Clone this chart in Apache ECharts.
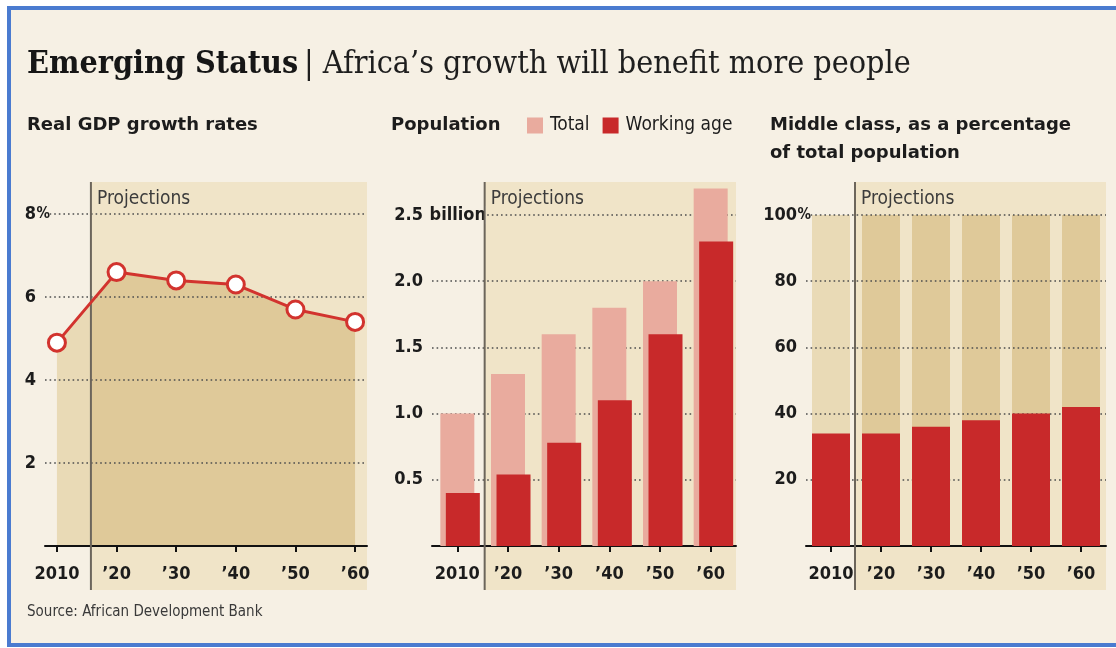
<!DOCTYPE html>
<html>
<head>
<meta charset="utf-8">
<script src="https://cdn.jsdelivr.net/npm/echarts@6/dist/echarts.min.js"></script>
<style>
  html, body { margin: 0; padding: 0; background: #ffffff; }
  #chart { width: 1116px; height: 648px; }
</style>
</head>
<body>
<div id="chart"></div>
<script>
// ---- data -------------------------------------------------------------
const years = [2010, 2020, 2030, 2040, 2050, 2060];
const yearLabels = ['2010', '\u201920', '\u201930', '\u201940', '\u201950', '\u201960'];

// Real GDP growth rate, %
const gdpGrowth = [4.9, 6.6, 6.4, 6.3, 5.7, 5.4];
// Population, billions
const populationTotal = [1.0, 1.3, 1.6, 1.8, 2.0, 2.7];
const populationWorkingAge = [0.4, 0.54, 0.78, 1.1, 1.6, 2.3];
// Middle class, % of total population
const middleClassShare = [34, 34, 36, 38, 40, 42];
const wholePopulation = [100, 100, 100, 100, 100, 100];

// projections start after the 2010 observation
const gdpProjectionFrom = 2015.7;

// ---- style ------------------------------------------------------------
const BG = '#f6f0e4';
const BAND = '#f0e4c8';
const TAN_OUT = '#e9dab6';
const TAN_IN = '#dfc999';
const PINK = '#e9ab9e';
const RED = '#c8292a';
const LINE_RED = '#d2332e';
const INK = '#1c1c1c';
const SANS_C = '"DejaVu Sans Condensed", "DejaVu Sans", sans-serif';
const SANS = '"DejaVu Sans", sans-serif';
const SERIF = '"DejaVu Serif Condensed", "DejaVu Serif", serif';

const grids = [
  { left: 45, top: 214, width: 322, height: 332 },
  { left: 432, top: 215, width: 304, height: 331 },
  { left: 806, top: 215, width: 300, height: 331 }
];

const measure = (() => {
  const ctx = document.createElement('canvas').getContext('2d');
  return (text, font) => { ctx.font = font; return Math.ceil(ctx.measureText(text).width); };
})();

const labelFont = { fontFamily: SANS_C, fontSize: 18, fontWeight: 'bold', color: INK };
const suffixFont = { fontFamily: SANS_C, fontSize: 18, fontWeight: 'bold', color: INK };
const pctFont = { fontFamily: SANS_C, fontSize: 15, fontWeight: 'bold', color: INK };

// y labels: numbers right-aligned, unit on the top label hangs to the right
function yAxisFor(gi, max, interval, unit, unitStyle, fmt) {
  const w = measure(unit, `${unitStyle.fontWeight} ${unitStyle.fontSize}px ${unitStyle.fontFamily}`);
  return {
    type: 'value', gridIndex: gi, min: 0, max: max, interval: interval,
    axisLine: { show: false }, axisTick: { show: false },
    splitLine: { show: true, lineStyle: { color: '#4e4e4e', width: 1.6, type: [1.6, 3] } },
    axisLabel: {
      margin: -(w - 9),
      formatter: v => {
        if (v === 0) return '';
        const n = fmt(v);
        return v === max ? `{n|${n}}{u|${unit}}` : `{n|${n}}{p| }`;
      },
      rich: {
        n: Object.assign({}, labelFont),
        u: Object.assign({ width: w, backgroundColor: BG }, unitStyle),
        p: Object.assign({ width: w }, labelFont)
      }
    },
    z: 0
  };
}

const xLabelStyle = Object.assign({ margin: 19, interval: 0 }, labelFont);
const xAxisLine = { show: true, lineStyle: { color: '#111', width: 2 } };
const xAxisTick = { show: true, length: 6, lineStyle: { color: '#111', width: 2 } };

const gdpPoints = years.map((y, i) => [y, gdpGrowth[i]]);
const split = (gdpProjectionFrom - years[0]) / (years[years.length - 1] - years[0]);

// population bars: total centred on the tick, working age nudged right;
// an empty trailing column balances the group so that holds
const popBarWidth = 34;
const popBarGap = -0.838;
const popSpacerWidth = popBarWidth - 2 * popBarWidth * (1 + popBarGap);

const option = {
  backgroundColor: 'transparent',
  animation: false,
  grid: grids.map(g => Object.assign({ containLabel: false }, g)),
  legend: {
    data: ['Total', 'Working age'],
    left: 527, top: 116, padding: 0,
    itemWidth: 16, itemHeight: 16, itemGap: 13,
    icon: 'rect',
    textStyle: { fontFamily: SANS_C, fontSize: 19, color: INK, padding: [0, 0, 0, 2] },
    selectedMode: false
  },
  xAxis: [
    {
      type: 'value', gridIndex: 0, min: 2008, max: 2062,
      splitLine: { show: false },
      axisLine: xAxisLine,
      axisTick: Object.assign({ customValues: years }, xAxisTick),
      axisLabel: Object.assign({ customValues: years, formatter: v => yearLabels[years.indexOf(v)] }, xLabelStyle)
    },
    {
      type: 'category', gridIndex: 1, data: yearLabels, boundaryGap: true,
      axisLine: xAxisLine,
      axisTick: Object.assign({ alignWithLabel: true, interval: 0 }, xAxisTick),
      axisLabel: xLabelStyle
    },
    {
      type: 'category', gridIndex: 2, data: yearLabels, boundaryGap: true,
      axisLine: xAxisLine,
      axisTick: Object.assign({ alignWithLabel: true, interval: 0 }, xAxisTick),
      axisLabel: xLabelStyle
    }
  ],
  yAxis: [
    yAxisFor(0, 8, 2, '%', pctFont, v => String(v)),
    yAxisFor(1, 2.5, 0.5, ' billion', suffixFont, v => v.toFixed(1)),
    yAxisFor(2, 100, 20, '%', pctFont, v => String(v))
  ],
  series: [
    {
      name: 'GDP area', type: 'line', xAxisIndex: 0, yAxisIndex: 0,
      data: gdpPoints, showSymbol: false, lineStyle: { opacity: 0 },
      areaStyle: {
        opacity: 1,
        color: new echarts.graphic.LinearGradient(0, 0, 1, 0, [
          { offset: 0, color: TAN_OUT }, { offset: split, color: TAN_OUT },
          { offset: split, color: TAN_IN }, { offset: 1, color: TAN_IN }
        ])
      },
      silent: true, z: -1
    },
    {
      name: 'Real GDP growth', type: 'line', xAxisIndex: 0, yAxisIndex: 0,
      data: gdpPoints,
      symbol: 'circle', symbolSize: 17,
      lineStyle: { color: LINE_RED, width: 3 },
      itemStyle: { color: '#ffffff', borderColor: LINE_RED, borderWidth: 3 },
      z: 5
    },
    {
      name: 'Total', type: 'bar', xAxisIndex: 1, yAxisIndex: 1,
      data: populationTotal, barWidth: popBarWidth, barGap: popBarGap * 100 + '%', clip: false,
      itemStyle: { color: PINK }
    },
    {
      name: 'Working age', type: 'bar', xAxisIndex: 1, yAxisIndex: 1,
      data: populationWorkingAge, barWidth: popBarWidth, barGap: popBarGap * 100 + '%', clip: false,
      itemStyle: { color: RED }
    },
    {
      name: 'spacer', type: 'bar', xAxisIndex: 1, yAxisIndex: 1,
      data: [], barWidth: popSpacerWidth, barGap: popBarGap * 100 + '%', silent: true
    },
    {
      name: 'Whole population', type: 'bar', xAxisIndex: 2, yAxisIndex: 2,
      data: wholePopulation, barWidth: 38, barGap: '-100%',
      itemStyle: { color: p => (p.dataIndex === 0 ? TAN_OUT : TAN_IN) },
      silent: true, z: -1
    },
    {
      name: 'Middle class', type: 'bar', xAxisIndex: 2, yAxisIndex: 2,
      data: middleClassShare, barWidth: 38, barGap: '-100%',
      itemStyle: { color: RED }
    }
  ]
};

const chart = echarts.init(document.getElementById('chart'));
chart.setOption(option);

// ---- frame, headings, projection bands --------------------------------
const px = (gi, x, y) => chart.convertToPixel({ gridIndex: gi }, [x, y]);
const dividers = [
  px(0, gdpProjectionFrom, 0)[0],
  (px(1, 0, 0)[0] + px(1, 1, 0)[0]) / 2 + 2,
  (px(2, 0, 0)[0] + px(2, 1, 0)[0]) / 2 - 1
];

const graphics = [
  { type: 'rect', shape: { x: 9, y: 8, width: 1120, height: 637 },
    style: { fill: BG, stroke: '#4a7bd0', lineWidth: 4 }, z: -10 }
];

grids.forEach((g, i) => {
  const top = 182, bottom = 590, right = g.left + g.width, x0 = dividers[i];
  graphics.push(
    { type: 'rect', shape: { x: x0, y: top, width: right - x0, height: bottom - top },
      style: { fill: BAND }, z: -5 },
    { type: 'line', shape: { x1: x0, y1: top, x2: x0, y2: bottom },
      style: { stroke: '#6c655b', lineWidth: 2 }, z: 1 },
    { type: 'text', x: x0 + 6, y: 199,
      style: { text: 'Projections', fontFamily: SANS_C, fontSize: 19, fill: '#3c3c3c', verticalAlign: 'middle' }, z: 1 }
  );
});

const heading = (text, x, y) => ({
  type: 'text', x: x, y: y,
  style: { text: text, fontFamily: SANS, fontSize: 18, fontWeight: 'bold', fill: INK, verticalAlign: 'middle' }, z: 2
});
graphics.push(
  heading('Real GDP growth rates', 27, 125),
  heading('Population', 391, 125),
  heading('Middle class, as a percentage', 770, 125),
  heading('of total population', 770, 153),
  { type: 'text', x: 27, y: 65,
    style: { text: 'Emerging Status', fontFamily: SERIF, fontSize: 32, fontWeight: 'bold', fill: '#161616', verticalAlign: 'middle' }, z: 2 },
  { type: 'text', x: 304, y: 65,
    style: { text: '| Africa\u2019s growth will benefit more people', fontFamily: SERIF, fontSize: 32, fill: '#1e1e1e', verticalAlign: 'middle' }, z: 2 },
  { type: 'text', x: 27, y: 612,
    style: { text: 'Source: African Development Bank', fontFamily: SANS_C, fontSize: 15, fill: '#3a3a3a', verticalAlign: 'middle' }, z: 2 }
);

chart.setOption({ graphic: graphics });
</script>
</body>
</html>
